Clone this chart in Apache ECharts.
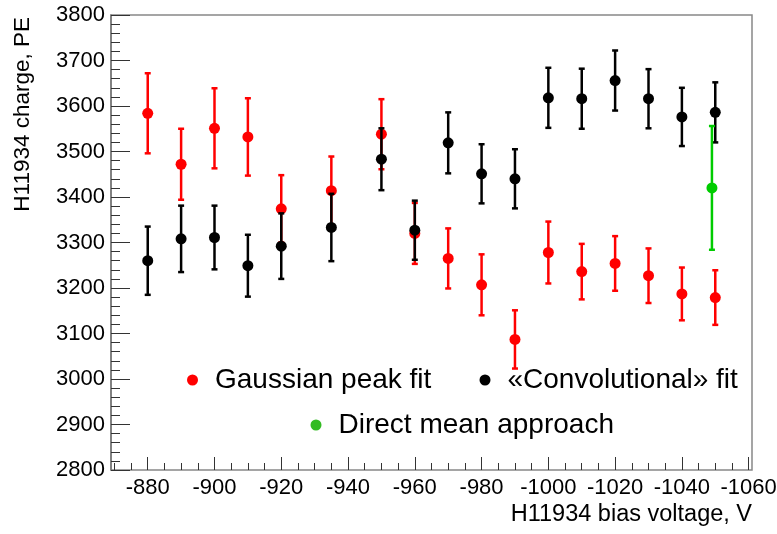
<!DOCTYPE html>
<html><head><meta charset="utf-8">
<script src="https://cdn.jsdelivr.net/npm/echarts@6/dist/echarts.min.js"></script>
<style>html,body{margin:0;padding:0;background:#fff}#c{width:777px;height:534px}</style>
</head><body><div id="c"></div>
<script>
// ---- data ----
const voltages     = [-880, -890, -900, -910, -920, -935, -950, -960, -970, -980, -990, -1000, -1010, -1020, -1030, -1040, -1050];
const gaussCharge  = [3584, 3472, 3551, 3532, 3374, 3414, 3538, 3320, 3265, 3207, 3087, 3278, 3236, 3254, 3227, 3187, 3179];
const gaussError   = [  88,   78,   88,   85,   74,   75,   77,   67,   66,   67,   64,   68,   61,   60,   60,   58,   60];
const convCharge   = [3260, 3308, 3311, 3249, 3292, 3333, 3483, 3327, 3519, 3451, 3440, 3618, 3616, 3656, 3616, 3576, 3586];
const convError    = [  75,   73,   70,   68,   72,   74,   68,   65,   67,   65,   65,   66,   66,   66,   65,   64,   66];
const directVoltage = [-1049];
const directCharge  = [3420];
const directError   = [136];
const seriesNames = ['Gaussian peak fit', '«Convolutional» fit', 'Direct mean approach'];
const xTitle = 'H11934 bias voltage, V';
const yTitle = 'H11934 charge, PE';

// ---- layout ----
const FONT = 'Liberation Sans, Arial, Helvetica, sans-serif';
const X_MIN = -1061, X_MAX = -869;
const GL = 111, GT = 15, GW = 641, GH = 455;
const pxPerV = GW / (X_MAX - X_MIN);
function px(v) { return GL + (X_MAX - v) * pxPerV; }
function gridSpan(vLeft, vRight) {
  const l = px(vLeft), r = px(vRight);
  return { left: l, width: r - l, top: GT, height: GH, outerBoundsMode: 'none', containLabel: false };
}
const RED = '#ff0000', BLACK = '#000000', GREEN = '#00cc00';
const plain = v => String(v);

function errorSeries(name, xs, ys, es, color, z) {
  return {
    type: 'custom', name, xAxisIndex: 0, yAxisIndex: 0, z, silent: true, animation: false,
    data: xs.map((x, i) => [x, ys[i] - es[i], ys[i] + es[i]]),
    encode: { x: 0, y: [1, 2] },
    renderItem(params, api) {
      const lo = api.coord([api.value(0), api.value(1)]);
      const hi = api.coord([api.value(0), api.value(2)]);
      const cw = 3;
      const st = { stroke: color, lineWidth: 2.5 };
      const cs = { stroke: color, lineWidth: 2.5 };
      return { type: 'group', children: [
        { type: 'line', shape: { x1: lo[0], y1: lo[1], x2: hi[0], y2: hi[1] }, style: st },
        { type: 'line', shape: { x1: lo[0] - cw, y1: lo[1], x2: lo[0] + cw, y2: lo[1] }, style: cs },
        { type: 'line', shape: { x1: hi[0] - cw, y1: hi[1], x2: hi[0] + cw, y2: hi[1] }, style: cs }
      ]};
    }
  };
}
function pointSeries(name, xs, ys, color, z) {
  return {
    type: 'scatter', name, xAxisIndex: 0, yAxisIndex: 0, z, animation: false,
    symbol: 'circle', symbolSize: 11, itemStyle: { color, opacity: 1 },
    data: xs.map((x, i) => [x, ys[i]])
  };
}

const legendCommon = {
  orient: 'horizontal', padding: 0, itemWidth: 11, itemHeight: 11, itemGap: 0,
  selectedMode: false,
  textStyle: { fontFamily: FONT, fontSize: 28, color: '#000', padding: [0, 0, 0, 12] }
};

const hiddenY = { min: 2800, max: 3800, show: false };

const option = {
  backgroundColor: '#fff',
  animation: false,
  grid: [
    Object.assign(gridSpan(X_MAX, X_MIN), { show: true, borderColor: '#888', borderWidth: 1.5, backgroundColor: 'transparent' }),
    gridSpan(-880, -1060),
    gridSpan(-870, -1060)
  ],
  xAxis: [
    { type: 'value', gridIndex: 0, min: X_MIN, max: X_MAX, inverse: true,
      axisLine: { show: false }, axisTick: { show: false }, axisLabel: { show: false }, splitLine: { show: false } },
    { type: 'value', gridIndex: 1, min: -1060, max: -880, interval: 20, inverse: true,
      axisLine: { show: false },
      axisTick: { show: true, inside: true, length: 13, lineStyle: { color: '#333', width: 1 } },
      axisLabel: { show: true, margin: 7, fontFamily: FONT, fontSize: 22, color: '#000', formatter: plain,
                   showMinLabel: true, showMaxLabel: true },
      splitLine: { show: false } },
    { type: 'value', gridIndex: 2, min: -1060, max: -870, interval: 5, inverse: true,
      axisLine: { show: false },
      axisTick: { show: true, inside: true, length: 7, lineStyle: { color: '#333', width: 1 } },
      axisLabel: { show: false }, splitLine: { show: false } }
  ],
  yAxis: [
    { type: 'value', gridIndex: 0, min: 2800, max: 3800, interval: 100,
      axisLine: { show: true, lineStyle: { color: '#777', width: 1.5 } },
      axisTick: { show: true, inside: true, length: 19, lineStyle: { color: '#333', width: 1 } },
      minorTick: { show: true, splitNumber: 5, length: 9, lineStyle: { color: '#333', width: 1 } },
      axisLabel: { show: true, margin: 6, fontFamily: FONT, fontSize: 22, color: '#000', formatter: plain },
      splitLine: { show: false } },
    Object.assign({ gridIndex: 1, type: 'value' }, hiddenY),
    Object.assign({ gridIndex: 2, type: 'value' }, hiddenY)
  ],
  legend: [
    Object.assign({ data: [{ name: seriesNames[0], icon: 'circle', itemStyle: { color: RED } }], left: 187, top: 366 }, legendCommon),
    Object.assign({ data: [{ name: seriesNames[1], icon: 'circle', itemStyle: { color: BLACK } }], left: 479.5, top: 366 }, legendCommon),
    Object.assign({ data: [{ name: seriesNames[2], icon: 'circle', itemStyle: { color: '#33bb22' } }], left: 310.5, top: 411 }, legendCommon)
  ],
  graphic: [
    { type: 'text', right: 777 - 752, top: 503, style: { text: xTitle, font: '23.5px ' + FONT, fill: '#000' } },
    { type: 'text', x: 11, y: 17, rotation: Math.PI / 2,
      style: { text: yTitle, font: '22.5px ' + FONT, fill: '#000', textAlign: 'right', textVerticalAlign: 'top' } }
  ],
  series: [
    errorSeries(seriesNames[0], voltages, gaussCharge, gaussError, RED, 2),
    pointSeries(seriesNames[0], voltages, gaussCharge, RED, 3),
    errorSeries(seriesNames[1], voltages, convCharge, convError, BLACK, 4),
    pointSeries(seriesNames[1], voltages, convCharge, BLACK, 5),
    errorSeries(seriesNames[2], directVoltage, directCharge, directError, GREEN, 6),
    pointSeries(seriesNames[2], directVoltage, directCharge, GREEN, 7)
  ]
};
const chart = echarts.init(document.getElementById('c'), null, { renderer: 'canvas' });
chart.setOption(option);
</script></body></html>
